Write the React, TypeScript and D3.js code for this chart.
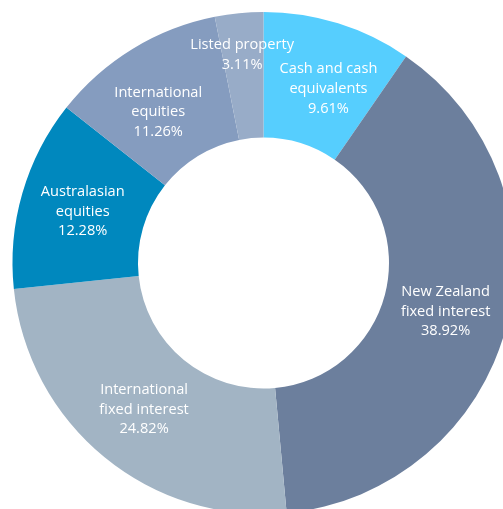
import * as d3 from 'd3';

const categories = [
  'Cash and cash equivalents',
  'New Zealand fixed interest',
  'International fixed interest',
  'Australasian equities',
  'International equities',
  'Listed property',
];
const values = [9.61, 38.92, 24.82, 12.28, 11.26, 3.11];
const labelLines = [
  ['Cash and cash', 'equivalents'],
  ['New Zealand', 'fixed interest'],
  ['International', 'fixed interest'],
  ['Australasian', 'equities'],
  ['International', 'equities'],
  ['Listed property'],
];

const COLORS = ['#56CEFE', '#6C7F9D', '#A2B4C4', '#0088BE', '#859CBF', '#98ACC8'];
// labels that were pushed off their centroid to avoid crowding
const NUDGE: { [k: string]: [number, number] } = {
  'Cash and cash equivalents': [9, 5],
  'International equities': [-7, 9],
  'Listed property': [-3, -22],
};

const W = 503;
const H = 509;
const CX = 263.5;
const CY = 263;
const R_OUT = 251;
const R_IN = 125.5;
const LINE_H = 19.8;

export default function App() {
  const pie = d3.pie<number>().sort(null).value((d) => d);
  const arcs = pie(values);
  const arc = d3.arc<d3.PieArcDatum<number>>().innerRadius(R_IN).outerRadius(R_OUT);

  return (
    <svg width={W} height={H} style={{ position: 'fixed', left: 0, top: 0 }}>
      <g transform={`translate(${CX},${CY})`}>
        {arcs.map((a, i) => (
          <path key={i} d={arc(a) || ''} fill={COLORS[i]} />
        ))}
        {arcs.map((a, i) => {
          const [x0, y0] = arc.centroid(a);
          const [nx, ny] = NUDGE[categories[i]] || [0, 0];
          const lines = [...labelLines[i], values[i].toFixed(2) + '%'];
          const n = lines.length;
          return (
            <text
              key={i}
              x={x0 + nx}
              y={y0 + ny}
              textAnchor="middle"
              fill="#ffffff"
              fontFamily="'Open Sans', sans-serif"
              fontSize={14.6}
            >
              {lines.map((l, j) => (
                <tspan key={j} x={x0 + nx} y={y0 + ny + (j - (n - 1) / 2) * LINE_H + 5}>
                  {l}
                </tspan>
              ))}
            </text>
          );
        })}
      </g>
    </svg>
  );
}
